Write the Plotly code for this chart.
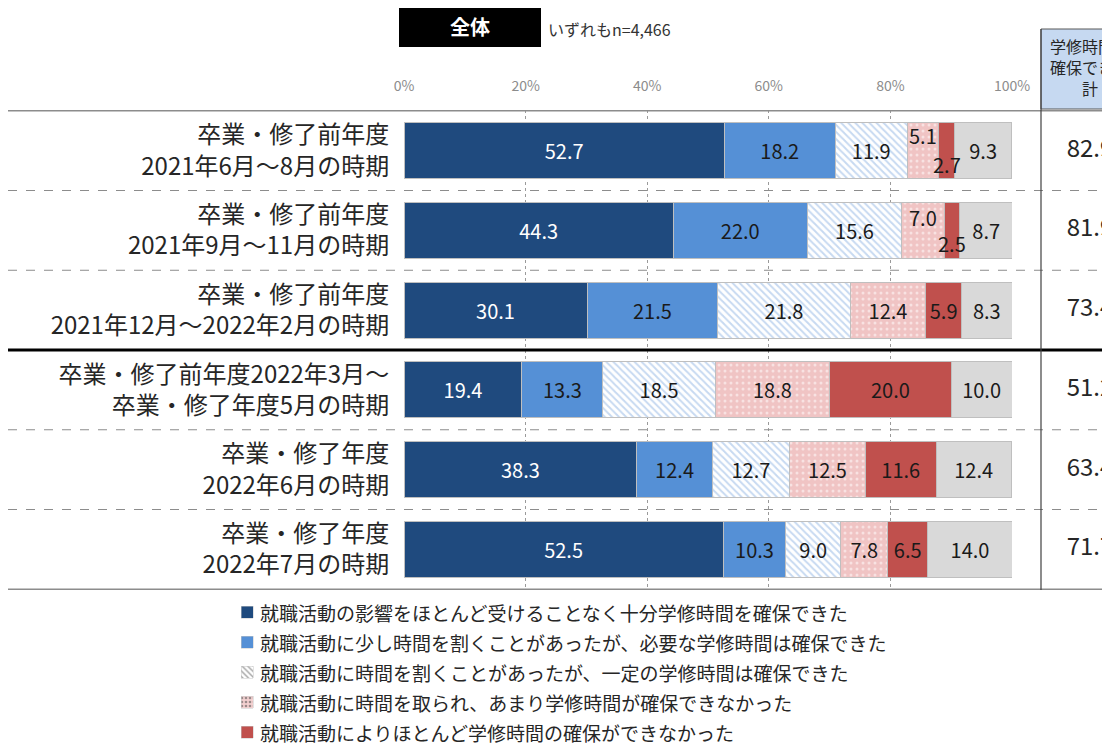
import plotly.graph_objects as go

# 時期（行ラベル）
periods = [
    "卒業・修了前年度<br>2021年6月～8月の時期",
    "卒業・修了前年度<br>2021年9月～11月の時期",
    "卒業・修了前年度<br>2021年12月～2022年2月の時期",
    "卒業・修了前年度2022年3月～<br>卒業・修了年度5月の時期",
    "卒業・修了年度<br>2022年6月の時期",
    "卒業・修了年度<br>2022年7月の時期",
]

# 回答区分ごとの割合（%）
v_full = [52.7, 44.3, 30.1, 19.4, 38.3, 52.5]
v_little = [18.2, 22.0, 21.5, 13.3, 12.4, 10.3]
v_some = [11.9, 15.6, 21.8, 18.5, 12.7, 9.0]
v_notmuch = [5.1, 7.0, 12.4, 18.8, 12.5, 7.8]
v_none = [2.7, 2.5, 5.9, 20.0, 11.6, 6.5]
v_other = [9.3, 8.7, 8.3, 10.0, 12.4, 14.0]

# 学修時間を確保できた計
totals = [82.9, 81.9, 73.4, 51.2, 63.4, 71.7]

x_ticks = [0, 20, 40, 60, 80, 100]
x_ticktext = ["0%", "20%", "40%", "60%", "80%", "100%"]

names = [
    "就職活動の影響をほとんど受けることなく十分学修時間を確保できた",
    "就職活動に少し時間を割くことがあったが、必要な学修時間は確保できた",
    "就職活動に時間を割くことがあったが、一定の学修時間は確保できた",
    "就職活動に時間を取られ、あまり学修時間が確保できなかった",
    "就職活動によりほとんど学修時間の確保ができなかった",
    "わからない",
]

FONT = "Noto Sans CJK JP"
OFF = 8  # ページ本体の余白
W, H = 1110 - OFF, 748 - OFF


def fx(x):
    return (x - OFF) / W


def fy(y):
    return 1 - (y - OFF) / H


series = [v_full, v_little, v_some, v_notmuch, v_none, v_other]
fills = ["#1f4a7e", "#5590d6", "white", "#f3d0d0", "#c0504d", "#d9d9d9"]
pat_shape = ["", "", "\\", ".", "", ""]
pat_fg = ["white", "white", "#8fb4e3", "white", "white", "white"]
pat_bg = ["#1f4a7e", "#5590d6", "white", "#f0c4c4", "#c0504d", "#d9d9d9"]
text_colors = ["white", "#1a1a1a", "#1a1a1a", "#1a1a1a", "#1a1a1a", "#1a1a1a"]

# 凡例（画面下で切れる最後の項目は描かない）
n_legend = 5
legend_y = [612, 642, 672, 702, 732]

# 小さい区分のラベルは上下にずらして注記で描く
shifted = {(3, 0): -15, (4, 0): 14, (3, 1): -13, (4, 1): 13}

fig = go.Figure()
for k, vals in enumerate(series):
    labels = []
    for i, v in enumerate(vals):
        labels.append("" if (k, i) in shifted else f"{v:.1f}")
    marker = dict(color=fills[k], line=dict(color="#bfbfbf", width=1))
    if pat_shape[k]:
        marker["pattern"] = dict(shape=pat_shape[k], fgcolor=pat_fg[k], bgcolor=pat_bg[k],
                                 size=5 if k == 2 else 6, solidity=0.4 if k == 2 else 0.2)
    fig.add_trace(go.Bar(
        y=periods, x=vals, name=names[k], orientation="h",
        marker=marker, text=labels, textposition="inside",
        insidetextanchor="middle", textangle=0, constraintext="none",
        textfont=dict(family=FONT, size=20, color=text_colors[k]),
        showlegend=False, hoverinfo="skip",
    ))

for (k, i), dy in shifted.items():
    start = sum(series[j][i] for j in range(k))
    fig.add_annotation(
        x=start + series[k][i] / 2, y=periods[i], text=f"{series[k][i]:.1f}",
        showarrow=False, yshift=-dy, xref="x", yref="y",
        font=dict(family=FONT, size=20, color="#1a1a1a"),
    )

# 右側の「確保できた計」列（右端で切れる）
fig.add_trace(go.Scatter(
    x=[1090] * len(totals), y=periods, xaxis="x2", yaxis="y",
    mode="text", text=[f"{t:.1f}" for t in totals], textposition="middle center",
    textfont=dict(family=FONT, size=24, color="#262626"),
    cliponaxis=True, showlegend=False, hoverinfo="skip",
))
fig.add_trace(go.Scatter(
    x=[1090], y=[70], xaxis="x2", yaxis="y2",
    mode="text", text=["学修時間を<br>確保できた<br>計"], textposition="middle center",
    textfont=dict(family=FONT, size=16, color="#262626"),
    cliponaxis=True, showlegend=False, hoverinfo="skip",
))

# 凡例の色見本（小さな棒）と文字
fig.add_trace(go.Bar(
    x=[247] * n_legend, y=[12] * n_legend, base=[v - 6 for v in legend_y],
    width=12, xaxis="x3", yaxis="y3",
    marker=dict(
        color=fills[:n_legend], line=dict(color="#c8c8c8", width=0.5),
        pattern=dict(shape=pat_shape[:n_legend], fgcolor=pat_fg[:n_legend],
                     bgcolor=pat_bg[:n_legend], size=4, solidity=0.35),
    ),
    showlegend=False, hoverinfo="skip",
))
for k in range(n_legend):
    fig.add_annotation(x=fx(258), y=fy(legend_y[k]), xref="paper", yref="paper",
                       text=names[k], xanchor="left", yanchor="middle", showarrow=False,
                       font=dict(family=FONT, size=19, color="#262626"))

shapes = []
# 行区切り線
for i in range(len(periods) + 1):
    yv = i - 0.5
    if i in (0, len(periods)):
        line = dict(color="#8c8c8c", width=1.5)
    elif i == 3:
        line = dict(color="black", width=3)
    else:
        line = dict(color="#8c8c8c", width=1, dash="dash")
    shapes.append(dict(type="line", xref="paper", yref="y", x0=0, x1=1,
                       y0=yv, y1=yv, line=line))

# 右列の見出しと縦線
shapes.append(dict(type="rect", xref="paper", yref="paper", x0=fx(1041), x1=fx(1160),
                   y0=fy(109), y1=fy(29), fillcolor="#c6d9f1",
                   line=dict(color="#595959", width=1), layer="below"))
shapes.append(dict(type="line", xref="paper", yref="paper", x0=fx(1041), x1=fx(1041),
                   y0=fy(590), y1=fy(29), line=dict(color="#404040", width=1.2)))
# 「全体」の黒い箱
shapes.append(dict(type="rect", xref="paper", yref="paper", x0=fx(399), x1=fx(541),
                   y0=fy(47), y1=fy(6), fillcolor="black", line=dict(width=0)))

fig.add_annotation(x=fx(470), y=fy(27), xref="paper", yref="paper", text="<b>全体</b>",
                   xanchor="center", yanchor="middle", showarrow=False,
                   font=dict(family=FONT, size=20, color="white"))
fig.add_annotation(x=fx(546), y=fy(29), xref="paper", yref="paper", text="いずれもn=4,466",
                   xanchor="left", yanchor="middle", showarrow=False,
                   font=dict(family=FONT, size=16, color="#333333"))

fig.update_layout(
    width=W, height=H,
    margin=dict(l=0, r=0, t=0, b=0, pad=0),
    barmode="stack", bargap=0.3,
    plot_bgcolor="white", paper_bgcolor="white",
    font=dict(family=FONT),
    showlegend=False,
    shapes=shapes,
    xaxis=dict(
        domain=[fx(404), fx(1012)], anchor="y",
        range=[0, 100], side="top", tickvals=x_ticks, ticktext=x_ticktext,
        showgrid=True, gridcolor="#9a9a9a", griddash="dot", gridwidth=1,
        zeroline=False, showline=False, ticks="outside", ticklen=12,
        tickcolor="rgba(0,0,0,0)", automargin=False,
        tickfont=dict(family=FONT, size=14, color="#8c8c8c"),
    ),
    yaxis=dict(
        domain=[fy(590), fy(110)], anchor="x",
        autorange="reversed", showgrid=False, showline=False, zeroline=False,
        ticks="outside", ticklen=9, tickcolor="rgba(0,0,0,0)", automargin=False,
        tickfont=dict(family=FONT, size=24, color="#262626"),
    ),
    xaxis2=dict(domain=[fx(1041), 1], range=[1041, 1110], anchor="y",
                visible=False, fixedrange=True),
    yaxis2=dict(domain=[fy(109), fy(29)], range=[109, 29], anchor="x2",
                visible=False, fixedrange=True),
    xaxis3=dict(domain=[0, 1], range=[OFF, 1110], anchor="y3",
                visible=False, fixedrange=True),
    yaxis3=dict(domain=[0, fy(596)], range=[748, 596], anchor="x3",
                visible=False, fixedrange=True),
)

fig.write_html("out.html")
